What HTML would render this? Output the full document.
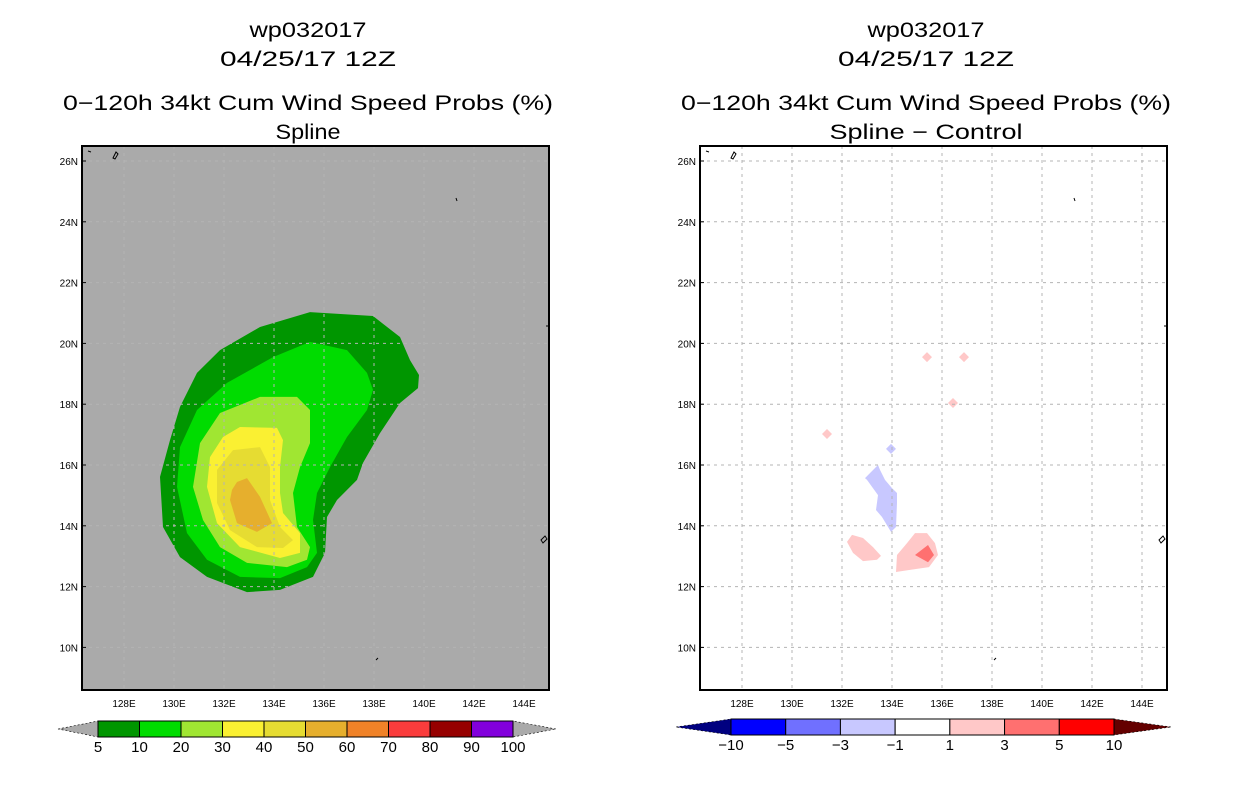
<!DOCTYPE html>
<html><head><meta charset="utf-8"><style>
body{margin:0;background:#fff;width:1236px;height:800px;overflow:hidden;font-family:"Liberation Sans",sans-serif}
svg{display:block}
</style></head><body>
<svg id="s" width="1236" height="800" font-family="Liberation Sans, sans-serif"></svg>
<script>
const lonTicks=[128,130,132,134,136,138,140,142,144];
const latTicks=[10,12,14,16,18,20,22,24,26];
const leftLevels=[5,10,20,30,40,50,60,70,80,90,100];
const leftColors=["#009600","#00dc00","#a0e632","#faf032","#e6dc32","#e6af2d","#f08228","#fa3c3c","#960000","#8200dc"];
const rightLevels=[-10,-5,-3,-1,1,3,5,10];
const rightColors=["#0000ff","#7070ff","#c8c8ff","#ffffff","#ffc8c8","#ff7070","#ff0000"];
const c5lon=[135.44,137.96,139.04,139.44,139.8,139.76,139.04,138.24,137.56,137.32,136.52,136.12,136.04,135.56,134.24,132.92,131.32,130.24,129.56,129.44,129.84,130.24,130.92,131.84,133.44];
const c5lat=[21.03,20.9,20.21,19.45,18.96,18.53,18.04,17.05,16.07,15.51,14.85,14.29,13.11,12.32,11.89,11.82,12.32,12.97,13.96,15.61,16.82,17.91,19.03,19.78,20.54];
const c10lon=[135.44,136.92,137.72,137.96,137.72,136.92,136.24,135.72,135.56,135.72,135.32,134.24,132.64,131.32,130.52,130.12,130.24,130.92,132.12,133.96];
const c10lat=[20.05,19.78,19.03,18.47,17.81,16.92,15.93,15.08,14.19,13.11,12.64,12.28,12.32,12.88,13.76,15.28,16.59,17.81,18.7,19.55];
const c20lon=[133.44,134.92,135.44,135.44,135.04,134.76,134.92,135.44,135.32,134.52,132.92,131.84,131.16,130.76,131.04,131.84];
const c20lat=[18.24,18.24,17.81,16.72,15.93,15.08,13.96,13.3,12.88,12.64,12.78,13.3,14.19,15.28,16.72,17.71];
const c30lon=[132.64,134.12,134.36,134.24,134.24,134.36,135.04,135.04,134.24,132.64,131.72,131.32,131.44,131.96];
const c30lat=[17.25,17.22,16.82,15.93,15.08,14.42,13.76,13.11,12.94,13.3,14.09,15.28,16.26,16.92];
const c40lon=[132.36,133.44,133.84,133.84,134.24,134.76,134.36,133.32,132.24,131.72,131.72];
const c40lat=[16.49,16.59,15.93,14.85,13.96,13.53,13.27,13.3,13.86,14.75,15.84];
const c50lon=[132.52,132.92,133.44,133.92,133.32,132.52,132.24,132.32];
const c50lat=[15.44,15.57,14.95,14.09,13.8,14.09,14.85,15.18];
const dBlueLon=[133.44,133.52,133.72,134.0,134.2,134.2,134.16,133.96,133.6,133.36,133.44,133.0,132.92];
const dBlueLat=[16.0,15.84,15.51,15.24,15.08,14.75,13.96,13.8,14.29,14.52,15.01,15.51,15.57];
const dPinkALon=[132.4,132.84,133.24,133.56,133.4,132.84,132.44,132.2];
const dPinkALat=[13.7,13.6,13.3,13.01,12.88,12.84,13.11,13.47];
const dPinkBLon=[134.92,135.4,135.72,135.84,135.48,134.72,134.16,134.2,134.6];
const dPinkBLat=[13.76,13.76,13.43,13.04,12.64,12.55,12.48,13.04,13.43];
const dRedLon=[135.44,135.68,135.44,134.92];
const dRedLat=[13.37,13.04,12.8,13.04];
const dotLon=[131.4,133.96,135.4,136.88,136.44];
const dotLat=[17.02,16.53,19.55,19.55,18.04];
const dotVal=[2,-2,2,2,2];

const NS="http://www.w3.org/2000/svg";
const S=document.getElementById('s');
function mk(t,a,p){const e=document.createElementNS(NS,t);for(const k in a)e.setAttribute(k,a[k]);(p||S).appendChild(e);return e;}
function xs(lon,off){return off+224+(lon-132)*25;}
function ys(lat){return 161+(26-lat)*30.4;}
const L=82,R=549,T=146,B=690;

function panel(off,bg,t3,t4,w4,name){
  const g=mk('g',{});
  
  
  const cx=off+308;
  [["wp032017",37,117],["04/25/17 12Z",66,176],[t3,110,490],[t4,139,w4]].forEach((t,i)=>{
    const e=mk('text',{x:cx,y:t[1],'text-anchor':'middle','font-size':21,fill:'#000',textLength:t[2],lengthAdjust:'spacingAndGlyphs'},g);
    e.textContent=t[0];
    
    
  });
  const bgr=mk('rect',{x:off+L,y:T,width:R-L,height:B-T,fill:bg},g);
  
  
  const pl=mk('g',{},g);
  
  
  const gr=mk('g',{stroke:'#b4b4b4','stroke-width':1,'stroke-dasharray':'3,4'},g);
  
  
  lonTicks.forEach(v=>{const x=xs(v,off);mk('line',{x1:x,x2:x,y1:T,y2:B},gr);
    const t=mk('text',{x:x,y:B+17,'text-anchor':'middle','font-size':10,fill:'#000'},g);t.textContent=v+'E';
    });
  latTicks.forEach(v=>{const y=ys(v);mk('line',{x1:off+L,x2:off+R,y1:y,y2:y},gr);
    mk('line',{x1:off+L,x2:off+L+4,y1:y,y2:y,stroke:'#000'},g);
    const t=mk('text',{x:off+L-4,y:y+4,'text-anchor':'end','font-size':10,fill:'#000'},g);t.textContent=v+'N';
    });
  const cs=mk('g',{stroke:'#000',fill:'none','stroke-width':1},g);
  
  
  mk('path',{d:`M${off+113} 158 l3 -6 l2 2 l-3 5 z M${off+88} 151 l3 1 M${off+456} 198 l1 3 M${off+376} 660 l2 -2 M${off+546} 326 l2 0 M${off+541} 540 l4 -4 l2 3 l-4 4 z`},cs);
  const fr=mk('rect',{x:off+L,y:T,width:R-L,height:B-T,fill:'none',stroke:'#000','stroke-width':2},g);
  
  
  return pl;
}
function poly(p,lons,lats,off,fill,name){
  const pts=lons.map((v,i)=>xs(v,off).toFixed(1)+','+ys(lats[i]).toFixed(1)).join(' ');
  const e=mk('polygon',{points:pts,fill:fill},p);
  
  
}
const pL=panel(0,'#aaaaaa','0\u2212120h 34kt Cum Wind Speed Probs (%)','Spline',65,'left-panel');
poly(pL,c5lon,c5lat,0,leftColors[0],'contour-5');
poly(pL,c10lon,c10lat,0,leftColors[1],'contour-10');
poly(pL,c20lon,c20lat,0,leftColors[2],'contour-20');
poly(pL,c30lon,c30lat,0,leftColors[3],'contour-30');
poly(pL,c40lon,c40lat,0,leftColors[4],'contour-40');
poly(pL,c50lon,c50lat,0,leftColors[5],'contour-50');
const OR=618;
const pR=panel(OR,'#ffffff','0\u2212120h 34kt Cum Wind Speed Probs (%)','Spline \u2212 Control',193,'right-panel');
poly(pR,dBlueLon,dBlueLat,OR,rightColors[2],'diff-negative');
poly(pR,dPinkALon,dPinkALat,OR,rightColors[4],'diff-positive-a');
poly(pR,dPinkBLon,dPinkBLat,OR,rightColors[4],'diff-positive-b');
poly(pR,dRedLon,dRedLat,OR,rightColors[5],'diff-positive-core');
dotLon.forEach((v,i)=>{const x=xs(v,OR),y=ys(dotLat[i]);
  const e=mk('polygon',{points:`${x-5},${y} ${x},${y-5} ${x+5},${y} ${x},${y+5}`,fill:dotVal[i]>0?rightColors[4]:rightColors[2]},pR);
  
  });

function cbar(x0,x1,y0,h,tl,tr,cols,levs,lcol,rcol,name){
  const g=mk('g',{});
  
  
  const w=(x1-x0)/cols.length,ym=y0+h/2;
  mk('polygon',{points:`${tl},${ym} ${x0},${y0} ${x0},${y0+h}`,fill:lcol,stroke:'#000','stroke-width':0.6,'stroke-dasharray':'2,2'},g);
  mk('polygon',{points:`${tr},${ym} ${x1},${y0} ${x1},${y0+h}`,fill:rcol,stroke:'#000','stroke-width':0.6,'stroke-dasharray':'2,2'},g);
  cols.forEach((c,i)=>{const r=mk('rect',{x:x0+i*w,y:y0,width:w,height:h,fill:c,stroke:'#000','stroke-width':1},g);
    });
  levs.forEach((v,i)=>{const t=mk('text',{x:x0+i*w,y:y0+h+15,'text-anchor':'middle','font-size':15,fill:'#000'},g);
    t.textContent=String(v).replace('-','\u2212');
    });
}
cbar(98,513,721,16,58,556,leftColors,leftLevels,'#aaaaaa','#aaaaaa','left-colorbar');
cbar(731,1114,719,16,676,1171,rightColors,rightLevels,'#000080','#640000','right-colorbar');
</script>
</body></html>
